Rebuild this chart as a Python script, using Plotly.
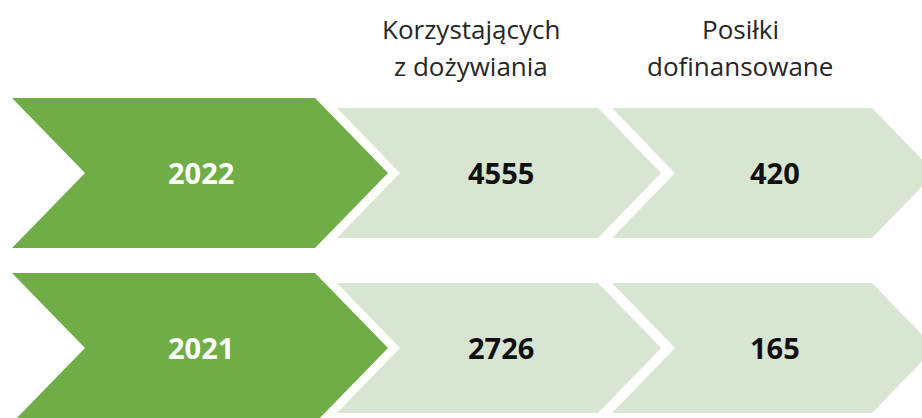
import plotly.graph_objects as go

# ---- data ----
years = ["2022", "2021"]
beneficiaries = [4555, 2726]
subsidised_meals = [420, 165]
header_line1 = ["Korzystających", "Posiłki"]
header_line2 = ["z dożywiania", "dofinansowane"]

# ---- layout parameters ----
W, H = 922, 418
GREEN = "#70AD47"
LIGHT = "#D9E5D3"
row_centers = [173, 348]

def chevron(x_left, x_right, half_h, depth, yc):
    xs = [x_left, x_right, x_right + depth, x_right, x_left, x_left + depth, x_left]
    ys = [yc - half_h, yc - half_h, yc, yc + half_h, yc + half_h, yc, yc - half_h]
    return "M " + " L ".join(f"{x},{y}" for x, y in zip(xs, ys)) + " Z"

# columns: (x_left, x_right_top, half_height, depth, color, text x center)
columns = [
    (12, 315, 75, 73, GREEN, 201),
    (337, 598, 65, 63, LIGHT, 501),
    (612, 872, 65, 63, LIGHT, 775),
]

shapes = []
annotations = []
for r, yc in enumerate(row_centers):
    values = [years[r], str(beneficiaries[r]), str(subsidised_meals[r])]
    for c, (xl, xr, hh, d, col, tx) in enumerate(columns):
        shapes.append(dict(type="path", path=chevron(xl, xr, hh, d, yc),
                           xref="x", yref="y", fillcolor=col,
                           line=dict(width=0), layer="below"))
        annotations.append(dict(x=tx, y=yc - 1, xref="x", yref="y", text=f"<b>{values[c]}</b>",
                                showarrow=False, xanchor="center", yanchor="middle",
                                font=dict(family="Open Sans", size=29,
                                          color="white" if c == 0 else "#111111")))

header_x = [471, 740]
for i in range(2):
    annotations.append(dict(x=header_x[i], y=29, xref="x", yref="y", text=header_line1[i],
                            showarrow=False, xanchor="center", yanchor="middle",
                            font=dict(family="Open Sans", size=26, color="#262626")))
    annotations.append(dict(x=header_x[i], y=66, xref="x", yref="y", text=header_line2[i],
                            showarrow=False, xanchor="center", yanchor="middle",
                            font=dict(family="Open Sans", size=26, color="#262626")))

fig = go.Figure()
fig.add_trace(go.Scatter(x=[0, W], y=[0, H], mode="markers",
                         marker=dict(opacity=0), hoverinfo="skip", showlegend=False))
fig.update_layout(
    width=W, height=H,
    margin=dict(l=0, r=0, t=0, b=0),
    paper_bgcolor="white", plot_bgcolor="white",
    xaxis=dict(range=[0, W], visible=False, fixedrange=True),
    yaxis=dict(range=[H, 0], visible=False, fixedrange=True),
    shapes=shapes, annotations=annotations, showlegend=False,
)
fig.write_html("out.html", config={"displayModeBar": False},
               post_script="document.body.style.margin='0';document.body.style.overflow='hidden';")
